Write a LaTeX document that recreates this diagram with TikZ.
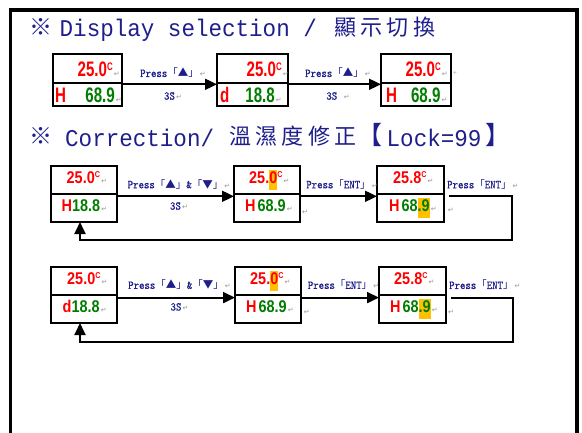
\documentclass[tikz,border=0pt]{standalone}
\usepackage{fontspec}
\usetikzlibrary{arrows.meta,calc}
\newfontfamily\mono{Liberation Mono}[FakeStretch=0.94]
\newfontfamily\cjk{Noto Sans CJK TC}
\newfontfamily\cjkt{Noto Sans CJK TC}[LetterSpace=20]
\newfontfamily\labf{lmmono10-regular.otf}[FakeBold=0.4,FakeStretch=0.86]
\newfontfamily\digA{Liberation Sans}[FakeStretch=0.72]
\newfontfamily\digB{Liberation Sans}[FakeStretch=0.85]
\newfontfamily\dv{DejaVu Sans}
\definecolor{navy}{RGB}{30,30,140}
\definecolor{dred}{RGB}{255,0,0}
\definecolor{dgreen}{RGB}{0,125,0}
\definecolor{retgray}{RGB}{150,150,150}
\definecolor{hlc}{RGB}{255,192,0}
\newcommand\ret{{\dv\fontsize{7}{7}\selectfont\color{retgray}\,↵}}
\newcommand\rret{\rlap{\ret}}
\newcommand\hl[1]{{\setlength{\fboxsep}{0pt}\colorbox{hlc}{\rule[-7pt]{0pt}{20pt}#1}}}
\newcommand\bigd[1]{{\digA\bfseries\fontsize{21}{21}\selectfont#1}}
\newcommand\smd[1]{{\digB\bfseries\fontsize{17}{17}\selectfont#1}}
\newcommand\supA{\raisebox{6.7pt}{\digA\bfseries\fontsize{11}{11}\selectfont C}}
\newcommand\supB{\raisebox{6.3pt}{\digB\bfseries\fontsize{8.5}{8.5}\selectfont C}}
\newcommand\dbox[6]{%
  \node[cellbox, minimum width=#4, minimum height=#5, anchor=north west] (#1t) at (#2,#3) {};
  \node[cellbox, minimum width=#4, minimum height=#6, anchor=north west] (#1b) at (#1t.south west) {};}
\tikzset{
  cellbox/.style={draw, line width=1.8pt, inner sep=0pt, outer sep=0pt},
  arr/.style={line width=1.8pt, -{Triangle[length=12pt,width=11pt]}},
  lab/.style={text=navy, font=\labf\fontsize{12}{12}\selectfont, inner sep=0pt},
  txt/.style={inner sep=0pt, anchor=base west},
  title/.style={text=navy, inner sep=0pt, anchor=base west},
  monot/.style={title, font=\mono\fontsize{24}{24}\selectfont},
  cjkt/.style={title, font=\cjkt\fontsize{22}{24}\selectfont},
  cjkb/.style={title, font=\cjk\fontsize{25}{26}\selectfont},
  retn/.style={inner sep=0pt, font=\dv\fontsize{7}{7}\selectfont, text=retgray}
}
\newcommand\bk[1]{{\cjk\fontsize{10.5}{11}\selectfont#1}}
\begin{document}
\begin{tikzpicture}[x=1pt,y=-1pt]
\useasboundingbox (0,0) rectangle (582,432);
\fill[white] (0,0) rectangle (582,432);
\clip (0,0) rectangle (582,432);
% frame
\draw[line width=3.5pt] (10.5,445) -- (10.5,10) -- (577,10) -- (577,445);
% titles
\node[cjkb, font=\cjk\fontsize{23}{24}\selectfont] (t1a) at (29.5,35.5) {※};
\node[monot] (t1b) at (59.5,36.7) {Display selection /};
\node[cjkt] (t1c) at (334,35.2) {顯示切換};
\node[cjkb, font=\cjk\fontsize{23}{24}\selectfont] (t2a) at (29.5,144.8) {※};
\node[monot] (t2b) at (65,146) {Correction/};
\node[cjkt] (t2c) at (229,144.5) {溫濕度修正};
\node[cjkb] (t2g) at (357,144.3) {【};
\node[monot] (t2d) at (386.5,146) {Lock=99};
\node[cjkb] (t2e) at (485,144.3) {】};
% ---------- row 1
\dbox{P}{53}{54}{69}{29}{23}
\dbox{Q}{217}{54}{71}{29}{23}
\dbox{R}{381}{54}{70}{29}{23}
\node[txt, anchor=base east] (p1) at (113,76.7) {\color{dred}\bigd{25.0}\supA\rret};
\node[txt] (p2) at (55,102.7) {\color{dred}\bigd{H}};
\node[txt, anchor=base east] (p3) at (115,102.7) {\color{dgreen}\bigd{68.9}\rret};
\node[txt, anchor=base east] (q1) at (282,76.7) {\color{dred}\bigd{25.0}\supA\rret};
\node[txt] (q2) at (220,102.7) {\color{dred}\bigd{d}};
\node[txt, anchor=base east] (q3) at (275,102.7) {\color{dgreen}\bigd{18.8}\rret};
\node[txt, anchor=base east] (r1) at (441,76.7) {\color{dred}\bigd{25.0}\supA\rret};
\node[txt] (r2) at (386,102.7) {\color{dred}\bigd{H}};
\node[txt, anchor=base east] (r3) at (440.7,102.7) {\color{dgreen}\bigd{68.9}\rret};
\node[retn, font=\dv\fontsize{5}{5}\selectfont] (rplus) at (455,73) {+};
\draw[arr] ($(Pb.north east)+(0,1.3)$) -- node[lab, yshift=11.3pt]{Press\bk{「▲」}\rret} node[lab, yshift=-11.7pt]{3S\rret} ($(Qb.north west)+(0,1.3)$);
\draw[arr] ($(Qb.north east)+(0,1.3)$) -- node[lab, yshift=11.3pt]{Press\bk{「▲」}\rret} node[lab, yshift=-11.7pt]{3S \rret} ($(Rb.north west)+(0,1.3)$);
% ---------- row 2
\dbox{A}{51}{166}{66}{28}{28}
\dbox{B}{234}{166}{66}{28}{28}
\dbox{C}{377}{166}{67}{28}{28}
\node[txt] (a1) at (66.5,183.3) {\color{dred}\smd{25.0}\supB\rret};
\node[txt] (a2) at (61.5,211) {{\color{dred}\smd{H}}{\color{dgreen}\smd{18.8}}\rret};
\node[txt] (b1) at (249,183.3) {\color{dred}\smd{25.\hl{0}}\supB\rret};
\node[txt] (b2) at (245,211) {{\color{dred}\smd{H}}\hspace{2pt}{\color{dgreen}\smd{68.9}}\rret};
\node[txt] (c1) at (393,183.3) {\color{dred}\smd{25.8}\supB\rret};
\node[txt] (c2) at (389,211) {{\color{dred}\smd{H}}\hspace{2pt}{\color{dgreen}\smd{68\hl{.9}}}\rret};
\draw[arr] ($(Ab.north east)+(0,2.3)$) -- node[lab, yshift=12pt]{Press\bk{「▲」}\&\bk{「▼」}\rret} node[lab, yshift=-9.7pt]{3S\rret} ($(Bb.north west)+(0,2.3)$);
\draw[arr] ($(Bb.north east)+(0,2.3)$) -- node[lab, yshift=12pt]{Press\bk{「}ENT\bk{」}\rret} ($(Cb.north west)+(0,2.3)$);
\node[lab, anchor=west] (lc2) at ($(Ct.south east)+(3,-9.7)$) {Press\bk{「}ENT\bk{」}\rret};
\draw[arr] ($(Cb.north east)+(5,2.3)$) -- ++(62.7,0) |- ($(Ab.south)+(-4,18)$) -- ($(Ab.south)+(-4,0)$);
\node[retn] (ra) at (305,212) {↵};
\node[retn] (rb) at (450.7,210) {↵};
% ---------- row 3
\dbox{D}{51}{267}{66}{28}{28}
\dbox{E}{235}{267}{66}{28}{28}
\dbox{F}{379}{267}{67}{28}{28}
\node[txt] (d1) at (67,284.3) {\color{dred}\smd{25.0}\supB\rret};
\node[txt] (d2) at (62.5,312.3) {{\color{dred}\smd{d}}{\color{dgreen}\smd{18.8}}\rret};
\node[txt] (e1) at (250,284.3) {\color{dred}\smd{25.\hl{0}}\supB\rret};
\node[txt] (e2) at (246,312.3) {{\color{dred}\smd{H}}\hspace{2pt}{\color{dgreen}\smd{68.9}}\rret};
\node[txt] (f1) at (394,284.3) {\color{dred}\smd{25.8}\supB\rret};
\node[txt] (f2) at (390,312.3) {{\color{dred}\smd{H}}\hspace{2pt}{\color{dgreen}\smd{68\hl{.9}}}\rret};
\draw[arr] ($(Db.north east)+(0,2.6)$) -- node[lab, yshift=12.7pt]{Press\bk{「▲」}\&\bk{「▼」}\rret} node[lab, yshift=-9.3pt]{3S\rret} ($(Eb.north west)+(0,2.6)$);
\draw[arr] ($(Eb.north east)+(0,2.6)$) -- node[lab, yshift=12.7pt]{Press\bk{「}ENT\bk{」}\rret} ($(Fb.north west)+(0,2.6)$);
\node[lab, anchor=west] (lf2) at ($(Ft.south east)+(3,-10)$) {Press\bk{「}ENT\bk{」}\rret};
\draw[arr] ($(Fb.north east)+(5,2.6)$) -- ++(62,0) |- ($(Db.south)+(-4,18.7)$) -- ($(Db.south)+(-4,0)$);
\node[retn] (rd) at (306.7,312.7) {↵};
\node[retn] (re) at (451,312.7) {↵};
\end{tikzpicture}
\end{document}
